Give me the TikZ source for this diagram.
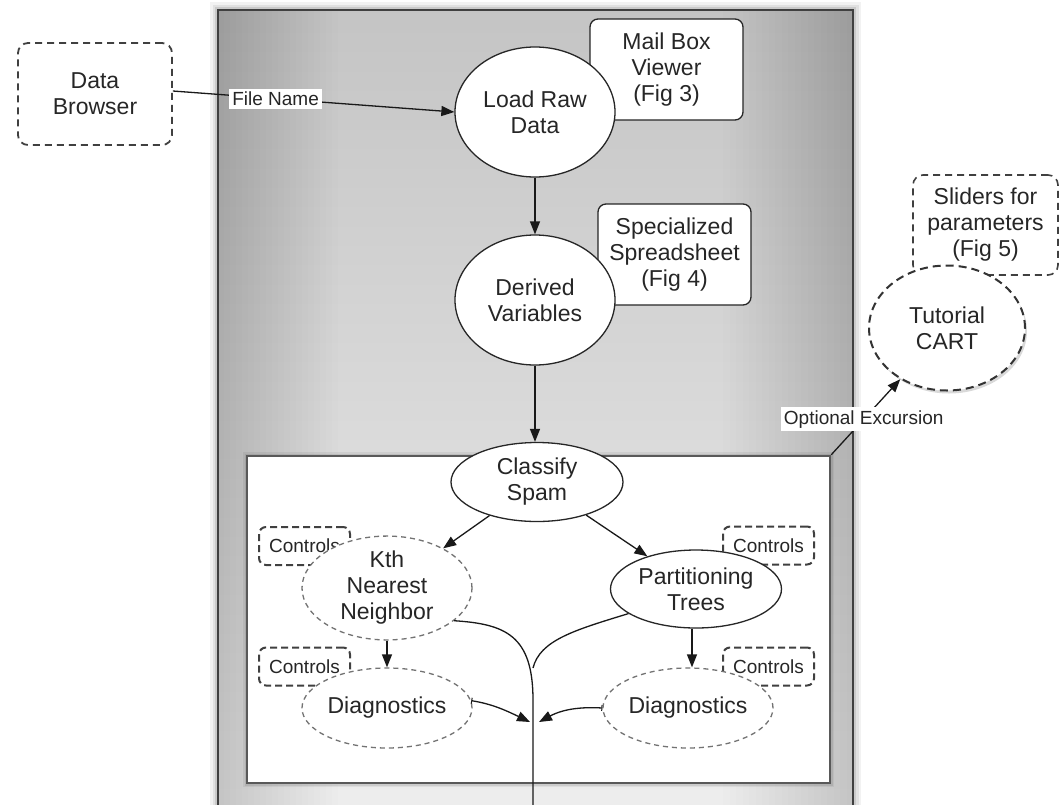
\documentclass[tikz,border=0pt]{standalone}
\usepackage{fontspec}
\setmainfont{Liberation Sans}
\usetikzlibrary{shapes.geometric,arrows.meta,shadows}
\begin{document}
\begin{tikzpicture}[x=1pt,y=-1pt,
  txt/.style={font=\fontsize{23}{26}\selectfont, text=black!85, align=center},
  small/.style={font=\fontsize{19}{22}\selectfont, text=black!85},
  ln/.style={line width=1.3pt, draw=black!90},
  arr/.style={ln, -{Triangle[length=13pt,width=10pt]}},
  barr/.style={ln, {Bar[width=6pt,line width=1pt]}-{Triangle[length=13pt,width=10pt]}},
  ell/.style={ellipse, draw=black!85, line width=1.3pt, fill=white, inner sep=0pt, txt},
  dell/.style={ell, draw=black!55, dash pattern=on 5pt off 4pt},
  rbox/.style={rectangle, rounded corners=8pt, draw=black!85, line width=1.3pt, fill=white, inner sep=0pt, txt},
  dbox/.style={rectangle, rounded corners=10pt, draw=black!75, line width=1.8pt, dash pattern=on 7pt off 5pt, inner sep=0pt, txt},
  ctrl/.style={rectangle, rounded corners=7pt, draw=black!75, line width=2pt, dash pattern=on 7pt off 4pt, fill=white, inner sep=0pt, small, minimum width=91pt, minimum height=38pt},
  lbl/.style={fill=white, inner sep=3pt, small},
]
\useasboundingbox (0,0) rectangle (1060,804);
\clip (0,0) rectangle (1060,804);

% outer panel with soft glow
\coordinate (onw) at (218,10);
\coordinate (ose) at (853,900);
\foreach \w/\o in {16/0.05, 11/0.07, 6/0.10}
  \draw[black, opacity=\o, line width=\w pt] (onw) rectangle (ose);
\node[top color=black!23, middle color=black!6, bottom color=black!5, minimum width=635pt, minimum height=890pt, inner sep=0pt] (outer) at (535.5,455) {};
\foreach \i in {1,...,20} {
  \fill[black, opacity=0.0065] (onw) rectangle ++(6*\i,890);
  \fill[black, opacity=0.0065] (ose) rectangle ++(-6.5*\i,-890);
}
\draw[black!75, line width=1.8pt] (outer.north west) rectangle (outer.south east);

% left data browser
\node[dbox, minimum width=154pt, minimum height=102pt] (db) at (95,94) {Data\\Browser};

% upper chain
\node[rbox, minimum width=153pt, minimum height=101pt] (mail) at (666.5,69.5) {Mail Box\\Viewer\\(Fig 3)};
\node[ell, minimum width=160pt, minimum height=130pt] (load) at (535,112) {Load Raw\\Data};
\node[rbox, minimum width=153pt, minimum height=101pt] (spread) at (674.5,254.5) {Specialized\\Spreadsheet\\(Fig 4)};
\node[ell, minimum width=160pt, minimum height=130pt] (derived) at (535,300) {Derived\\Variables};

% right excursion
\node[dbox, line width=1.6pt, minimum width=145pt, minimum height=100pt] (sliders) at (985.5,225) {Sliders for\\parameters\\(Fig 5)};
\node[ell, dash pattern=on 8pt off 5pt, line width=2pt, draw=black!80, minimum width=156pt, minimum height=125pt,
      drop shadow={opacity=0.3, shadow xshift=2pt, shadow yshift=-3pt}] (tut) at (947,328) {Tutorial\\CART};

% inner panel
\foreach \w/\o in {8/0.06, 5/0.08}
  \draw[black, opacity=\o, line width=\w pt] (247,456) rectangle (830,783);
\node[draw=black!65, line width=2.5pt, fill=white, minimum width=583pt, minimum height=327pt, inner sep=0pt] (inner) at (538.5,619.5) {};

\node[ctrl] (c1) at (304.5,546) {Controls};
\node[ctrl] (c2) at (304.5,666.5) {Controls};
\node[ctrl] (c3) at (768.5,545.5) {Controls};
\node[ctrl] (c4) at (768.5,666.5) {Controls};

\node[ell, minimum width=172pt, minimum height=79pt] (classify) at (537,482) {Classify\\Spam};
\node[dell, minimum width=170pt, minimum height=80pt] (kth) at (387,588) {Kth\\Nearest\\Neighbor};
\node[ell, minimum width=171pt, minimum height=78pt] (pt) at (696,589) {Partitioning\\Trees};
\node[dell, minimum width=170pt, minimum height=80pt] (dl) at (387,708) {Diagnostics};
\node[dell, minimum width=170pt, minimum height=80pt] (dr) at (688,708) {Diagnostics};

% connectors
\draw[arr] ([yshift=3pt]db.east) -- node[lbl, pos=0.365]{File Name} (load.west);
\draw[arr] (load) -- (derived);
\draw[arr] (derived) -- (derived |- classify.north);
\draw[arr] (inner.north east) -- node[lbl, pos=0.47]{Optional Excursion} (tut);
\draw[arr] (classify) -- (kth);
\draw[arr] (classify) -- (pt);
\draw[arr] (kth) -- (dl);
\draw[arr] ([xshift=-4pt]pt.south) -- ([xshift=4pt]dr.north);

\coordinate (exit) at (533,815);
\coordinate (tipL) at (530,722);
\coordinate (tipR) at (539,722);
\draw[ln] (kth.-26) .. controls (505,624) and (533,635) .. (533,700) -- (exit);
\draw[ln] (pt.200) .. controls (575,630) and (540,640) .. (533,668);
\draw[barr] (dl.5) .. controls (492,704) and (505,710) .. (tipL);
\draw[barr] (dr.180) .. controls (585,707) and (565,708) .. (tipR);
\end{tikzpicture}
\end{document}
